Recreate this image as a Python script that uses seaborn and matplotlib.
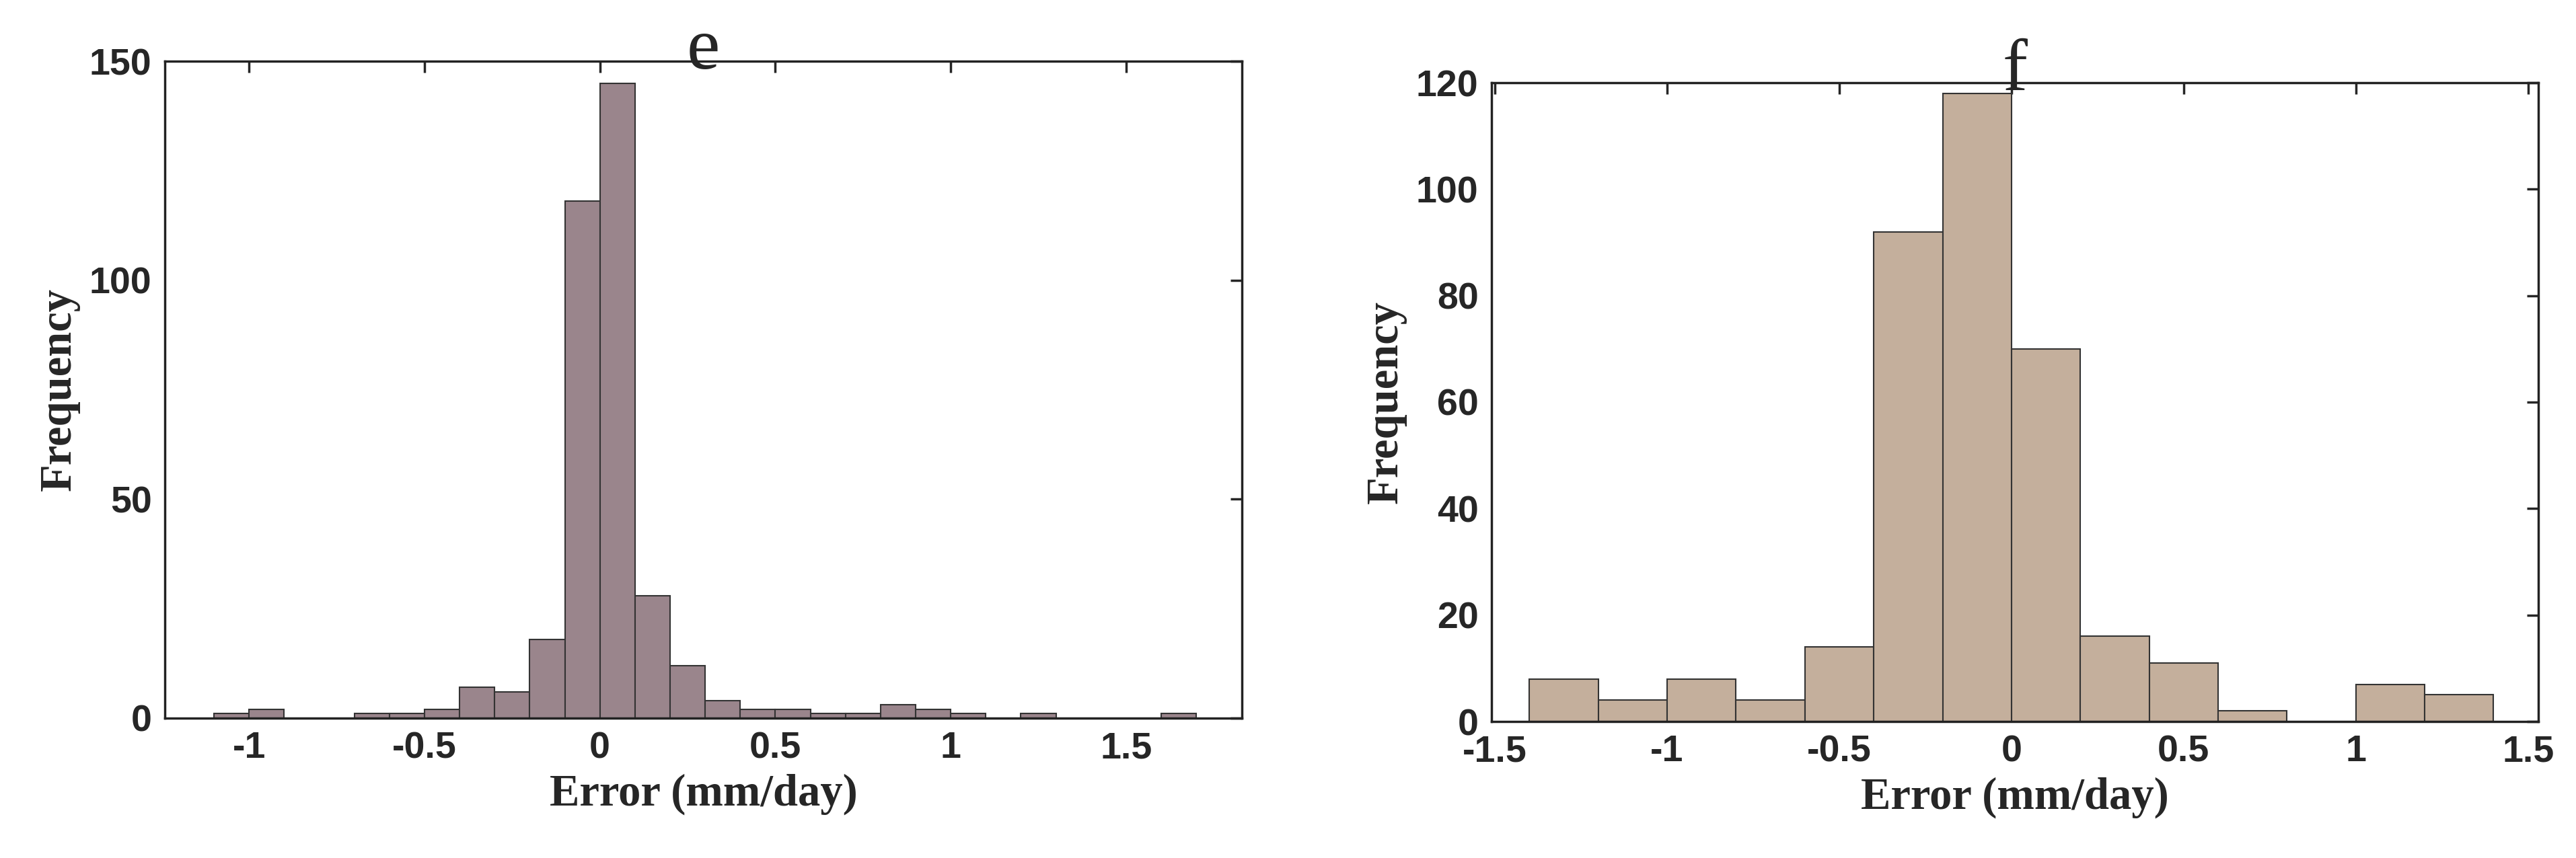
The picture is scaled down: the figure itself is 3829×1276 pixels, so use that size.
import numpy as np
import pandas as pd
import matplotlib
matplotlib.use("Agg")
import matplotlib.pyplot as plt
import seaborn as sns

# panel e: bin width 0.1 from -1.1 to 1.7
e_edges = np.round(np.arange(-1.1, 1.7001, 0.1), 2)
e_counts = [1, 2, 0, 0, 1, 1, 2, 7, 6, 18, 118, 145, 28, 12, 4, 2, 2, 1, 1, 3, 2, 1, 0, 1, 0, 0, 0, 1]

# panel f: bin width 0.2 from -1.4 to 1.4
f_edges = np.round(np.arange(-1.4, 1.4001, 0.2), 2)
f_counts = [8, 4, 8, 4, 14, 92, 118, 70, 16, 11, 2, 0, 7, 5]

sns.set_style("white")
fig = plt.figure(figsize=(38.3, 12.76), dpi=100)
ax1 = fig.add_axes([245 / 3830, 1 - 1068 / 1276, (1846 - 245) / 3830, (1068 - 91) / 1276])
ax2 = fig.add_axes([2217 / 3830, 1 - 1073 / 1276, (3773 - 2217) / 3830, (1073 - 123) / 1276])

panels = [
    (ax1, e_edges, e_counts, "#9A858C", "e", (-1.24, 1.83), (0, 150), [-1, -0.5, 0, 0.5, 1, 1.5], [0, 50, 100, 150]),
    (ax2, f_edges, f_counts, "#C4AF9C", "f", (-1.51, 1.53), (0, 120), [-1.5, -1, -0.5, 0, 0.5, 1, 1.5], range(0, 121, 20)),
]

for ax, edges, counts, color, title, xlim, ylim, xt, yt in panels:
    df = pd.DataFrame({"center": (edges[:-1] + edges[1:]) / 2, "count": counts})
    sns.histplot(data=df, x="center", weights="count", bins=list(edges), color=color, alpha=1,
                 edgecolor="#333333", linewidth=1.5, ax=ax)
    ax.set_xlim(*xlim)
    ax.set_ylim(*ylim)
    ax.set_xticks(xt)
    ax.set_xticklabels([f"{v:g}" for v in xt])
    ax.set_yticks(list(yt))
    ax.tick_params(direction="in", length=12, width=2.5, top=True, right=True,
                   labelsize=40, pad=14)
    for lab in ax.get_xticklabels() + ax.get_yticklabels():
        lab.set_fontweight("bold")
        lab.set_family("Liberation Sans")
    for s in ax.spines.values():
        s.set_linewidth(2.5)
        s.set_color("#222222")
    ax.set_xlabel("Error (mm/day)", fontsize=48, fontweight="bold", family="Liberation Serif", labelpad=8)
    ax.set_ylabel("Frequency", fontsize=48, fontweight="bold", family="Liberation Serif", labelpad=10)
    ax.set_title(title, fontsize=80, family="Liberation Serif", pad=-8)

fig.savefig("out.png", dpi=100)
